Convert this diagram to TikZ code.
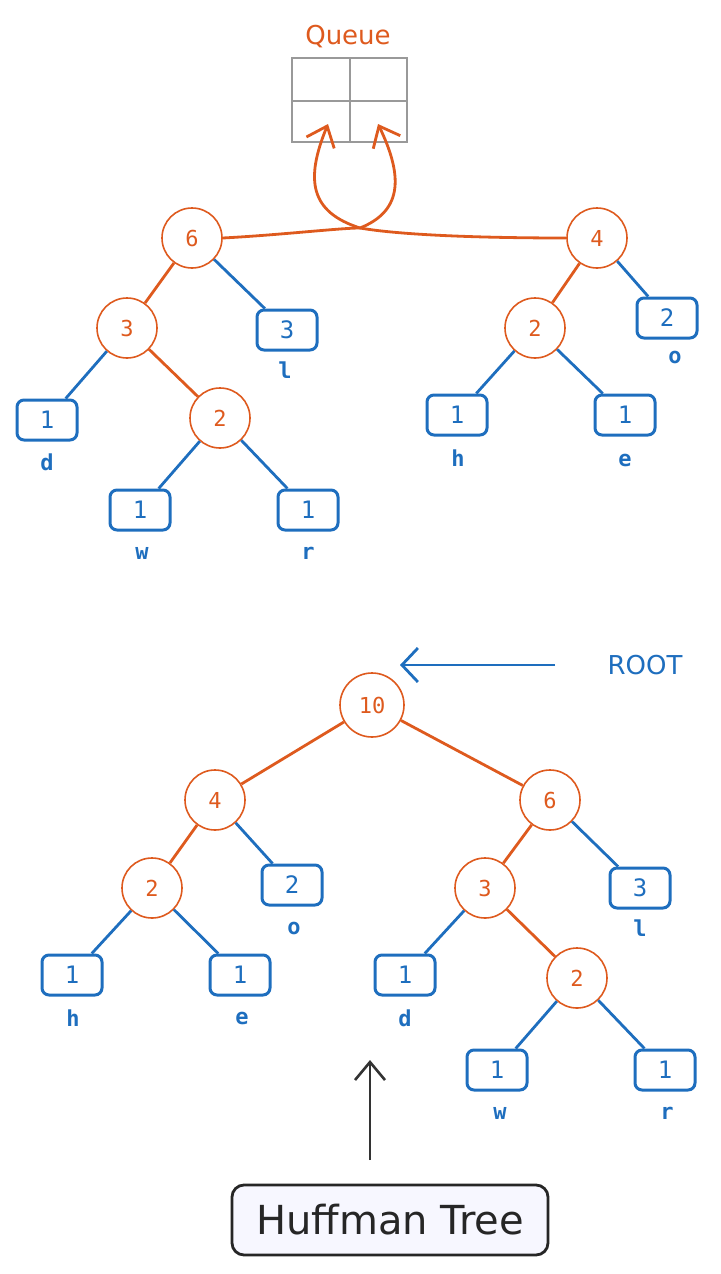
\documentclass[tikz,border=0pt]{standalone}
\usepackage{fontspec}
\setmainfont{DejaVu Sans}
\newfontfamily\monof{DejaVu Sans Mono}
\usetikzlibrary{arrows.meta,patterns}
\definecolor{ora}{RGB}{222,90,30}
\definecolor{blu}{RGB}{30,110,190}
\begin{document}
\begin{tikzpicture}[x=1pt,y=-1pt,
 cn/.style={circle,draw=ora,line width=1.6pt,minimum size=60pt,text=ora,font=\monof\fontsize{22}{22}\selectfont,inner sep=0},
 bx/.style={rectangle,rounded corners=7pt,draw=blu,line width=3pt,minimum width=60pt,minimum height=40pt,text=blu,font=\monof\fontsize{24}{24}\selectfont},
 lb/.style={text=blu,font=\monof\bfseries\fontsize{22}{22}\selectfont},
 oe/.style={draw=ora,line width=2.8pt},
 be/.style={draw=blu,line width=2.8pt},
 opn/.style={-{Straight Barb[length=18pt,width=30pt,line width=2.8pt]}}]
\useasboundingbox (0,0) rectangle (720,1274);
% Queue
\node[text=ora,font=\fontsize{26}{26}\selectfont] (q) at (348,37) {Queue};
\draw[gray!80,line width=2pt] (292,58) rectangle (407,142) (350,58) -- (350,142) (292,101) -- (407,101);
\coordinate (qa) at (328,124); \coordinate (qb) at (378,124); \coordinate (x) at (360,228);
% top left tree
\node[cn] (a6) at (192,238) {6};
\node[cn] (a3) at (127,328) {3};
\node[bx] (al) at (287,330) {3}; \node[lb] (all) at (285,370) {l};
\node[cn] (a2) at (220,418) {2};
\node[bx] (ad) at (47,420) {1}; \node[lb] (adl) at (47,462) {d};
\node[bx] (aw) at (140,510) {1}; \node[lb] (awl) at (142,553) {w};
\node[bx] (ar) at (308,510) {1}; \node[lb] (arl) at (308,553) {r};
\draw[oe] (a6) -- (a3); \draw[oe] (a3) -- (a2);
\draw[be] (a6) -- (al); \draw[be] (a3) -- (ad); \draw[be] (a2) -- (aw); \draw[be] (a2) -- (ar);
% top right tree
\node[cn] (b4) at (597,238) {4};
\node[cn] (b2) at (535,328) {2};
\node[bx] (bo) at (667,318) {2}; \node[lb] (bol) at (675,357) {o};
\node[bx] (bh) at (457,415) {1}; \node[lb] (bhl) at (458,458) {h};
\node[bx] (be) at (625,415) {1}; \node[lb] (bel) at (625,460) {e};
\draw[oe] (b4) -- (b2); \draw[be] (b4) -- (bo); \draw[be] (b2) -- (bh); \draw[be] (b2) -- (be);
% merge arrows
\draw[oe,opn] (a6.east) .. controls (280,235) and (340,228) .. (x) .. controls (400,212) and (405,180) .. (qb);
\draw[oe,opn] (b4.west) .. controls (480,238) and (400,235) .. (x) .. controls (310,212) and (305,180) .. (qa);
% bottom tree
\node[cn,minimum size=64pt] (c10) at (372,705) {10};
\node[text=blu,font=\fontsize{26}{26}\selectfont] (root) at (645,665) {ROOT};
\coordinate (rs) at (555,665);
\draw[be,-{Straight Barb[length=16pt,width=34pt,line width=2.8pt]}] (rs) -- (400,665);
\node[cn] (c4) at (215,800) {4};
\node[cn] (c6) at (550,800) {6};
\node[cn] (c2) at (152,888) {2};
\node[bx] (co) at (292,885) {2}; \node[lb] (col) at (294,928) {o};
\node[bx] (ch) at (72,975) {1}; \node[lb] (chl) at (73,1018) {h};
\node[bx] (ce) at (240,975) {1}; \node[lb] (cel) at (242,1018) {e};
\node[cn] (c3) at (485,888) {3};
\node[bx] (cl) at (640,888) {3}; \node[lb] (cll) at (640,928) {l};
\node[bx] (cd) at (405,975) {1}; \node[lb] (cdl) at (405,1018) {d};
\node[cn] (c2b) at (577,978) {2};
\node[bx] (cw) at (497,1070) {1}; \node[lb] (cwl) at (500,1113) {w};
\node[bx] (cr) at (665,1070) {1}; \node[lb] (crl) at (667,1113) {r};
\draw[oe] (c10) -- (c4); \draw[oe] (c10) -- (c6); \draw[oe] (c4) -- (c2); \draw[oe] (c6) -- (c3); \draw[oe] (c3) -- (c2b);
\draw[be] (c4) -- (co); \draw[be] (c2) -- (ch); \draw[be] (c2) -- (ce);
\draw[be] (c6) -- (cl); \draw[be] (c3) -- (cd); \draw[be] (c2b) -- (cw); \draw[be] (c2b) -- (cr);
% Huffman
\node[draw=black!85,line width=2.8pt,rounded corners=12pt,fill=blue!3,minimum width=316pt,minimum height=70pt,font=\fontsize{40}{40}\selectfont,text=black!85] (hf) at (390,1220) {Huffman Tree};
\coordinate (ht) at (370,1060);
\draw[black!80,line width=2.6pt,-{Straight Barb[length=18pt,width=30pt,line width=2.6pt]}] (370,1160) -- (ht);
\end{tikzpicture}
\end{document}
